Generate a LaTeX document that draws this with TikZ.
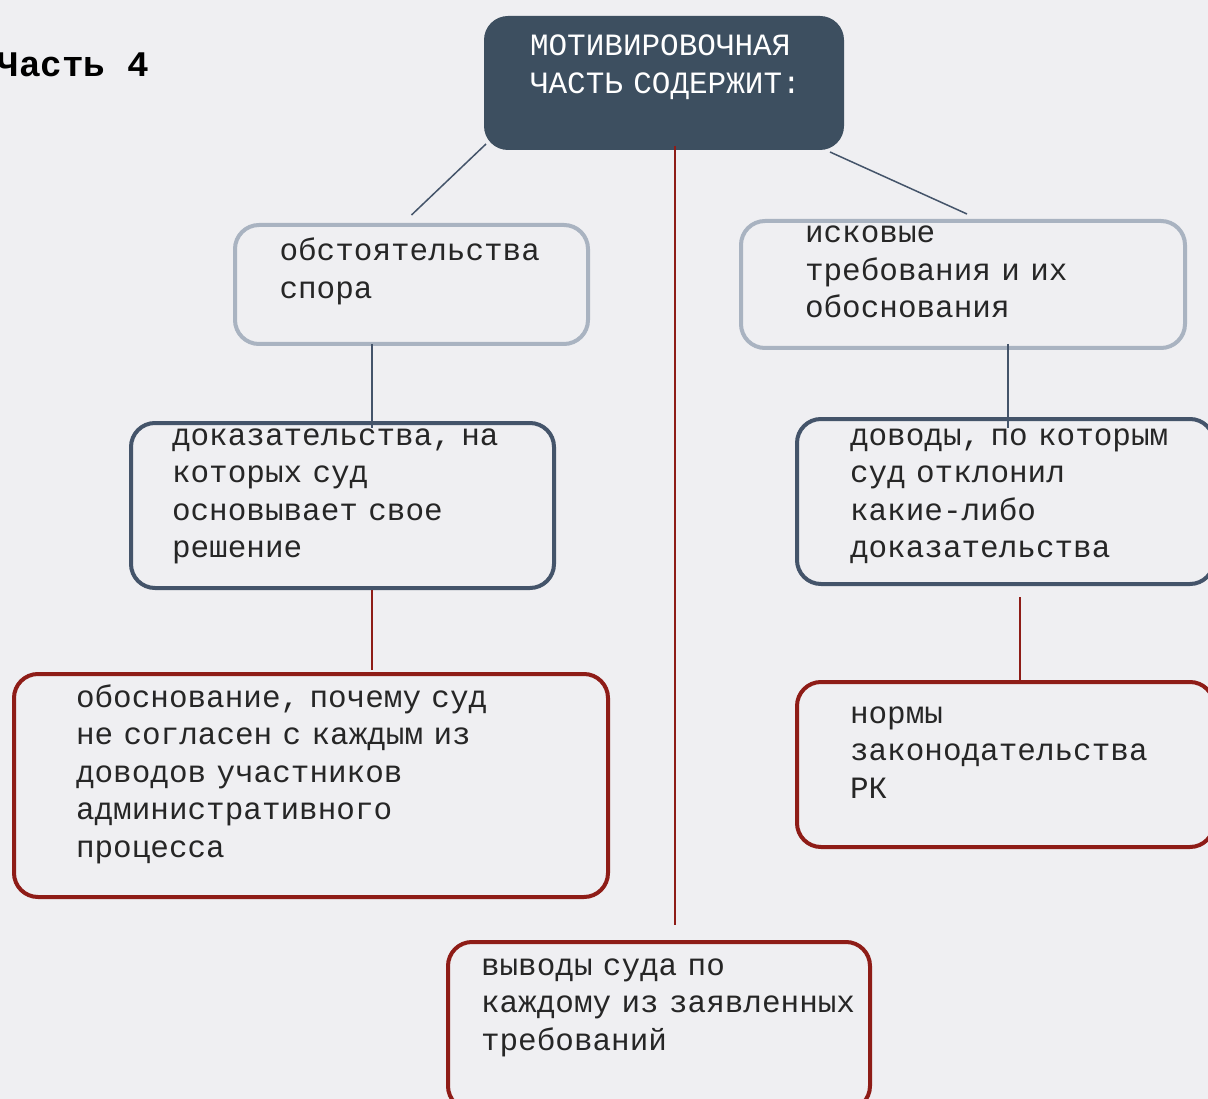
\documentclass[tikz,border=0pt]{standalone}
\usepackage{fontspec}
\setmainfont{Liberation Mono}
\definecolor{PageGray}{HTML}{EFEFF2}
\definecolor{SlateFill}{HTML}{3D4F60}
\definecolor{SlateLine}{HTML}{44546A}
\definecolor{MistLine}{HTML}{A9B3C1}
\definecolor{BrickRed}{HTML}{8E1C17}
\definecolor{InkGray}{HTML}{262626}

\begin{document}
\begin{tikzpicture}[
    x=1pt, y=-1pt,
    font=\fontsize{31}{37.5}\selectfont,
    card/.style={rounded corners=24pt, line width=4pt, align=left, inner ysep=0pt, anchor=north west, text=InkGray},
    palebox/.style={card, draw=MistLine},
    slatebox/.style={card, draw=SlateLine},
    brickbox/.style={card, draw=BrickRed},
    headbox/.style={card, draw=none, fill=SlateFill, text=white},
    slink/.style={line width=1.5pt, draw=SlateLine},
    rlink/.style={line width=2pt, draw=BrickRed}
]
\useasboundingbox (0,0) rectangle (1208,1099);
\fill[PageGray] (0,0) rectangle (1208,1099);

\node[anchor=base west, font=\fontsize{36}{40}\selectfont\bfseries] (part) at (-6,77) {Часть 4};

\node[headbox, text width=268pt, inner xsep=46pt, text height=40pt, text depth=94pt] (motiv) at (482,14) {МОТИВИРОВОЧНАЯ\\\mbox{ЧАСТЬ СОДЕРЖИТ:}};

\node[palebox, text width=264pt, inner xsep=44.5pt, text height=36pt, text depth=83pt] (obst) at (233,223) {обстоятельства\\спора};
\node[palebox, text width=316pt, inner xsep=64pt, text height=22pt, text depth=105pt] (isk) at (739,219) {исковые\\требования и их\\обоснования};

\node[slatebox, text width=341pt, inner xsep=41pt, text height=22pt, text depth=143pt] (dok) at (129,421) {доказательства, на\\которых суд\\основывает свое\\решение};
\node[slatebox, text width=311pt, inner xsep=53pt, text height=26pt, text depth=139pt] (dov) at (795,417) {\mbox{доводы, по которым}\\суд отклонил\\какие-либо\\доказательства};

\node[brickbox, text width=470pt, inner xsep=62pt, text height=33pt, text depth=190pt] (obosn) at (12,672) {обоснование, почему суд\\не согласен с каждым из\\доводов участников\\административного\\процесса};
\node[brickbox, text width=311pt, inner xsep=53pt, text height=41pt, text depth=124pt] (norm) at (795,680) {нормы\\законодательства\\РК};
\node[brickbox, text width=356pt, inner xsep=33pt, text height=33pt, text depth=135pt] (vyv) at (446,940) {выводы суда по\\\mbox{каждому из заявленных}\\требований};

% links
\draw[slink] ([xshift=4pt,yshift=8pt]motiv.south west) -- ([yshift=8pt]obst.north);
\draw[slink] ([xshift=-16pt]motiv.south east) -- ([xshift=4pt,yshift=5pt]isk.north);
\draw[rlink] ([xshift=11pt,yshift=6pt]motiv.south) -- ([xshift=16pt,yshift=15pt]vyv.north);
\draw[slink] ([xshift=-39.5pt,yshift=2pt]obst.south) -- ([xshift=29.5pt,yshift=-7pt]dok.north);
\draw[slink] ([xshift=45pt,yshift=6pt]isk.south) -- ([xshift=2.5pt,yshift=-11pt]dov.north);
\draw[rlink] ([xshift=29.5pt]dok.south) -- ([xshift=61pt,yshift=2pt]obosn.north);
\draw[rlink] ([xshift=14.5pt,yshift=-11pt]dov.south) -- ([xshift=14.5pt]norm.north);
\end{tikzpicture}
\end{document}
